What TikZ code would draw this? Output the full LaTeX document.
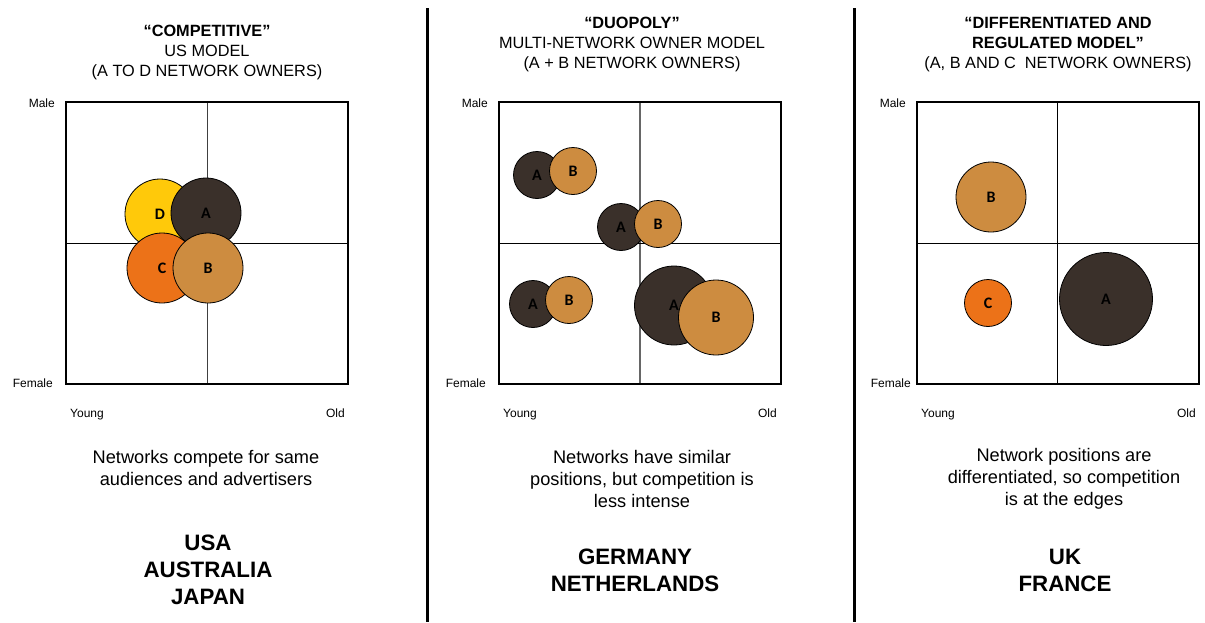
\documentclass[tikz,border=0pt]{standalone}
\usepackage{fontspec}
\setmainfont{Liberation Sans}
\newfontfamily\lblfont{Carlito}
\definecolor{cA}{HTML}{3A302A}
\definecolor{cB}{HTML}{CD8C40}
\definecolor{cC}{HTML}{EC7218}
\definecolor{cD}{HTML}{FFC90A}
\begin{document}
\begin{tikzpicture}[x=1pt,y=-1pt,
  frame/.style={draw=black,line width=2.2pt},
  midline/.style={draw=black,line width=1pt},
  sep/.style={draw=black,line width=3pt},
  net/.style={circle,draw=black,line width=0.8pt,inner sep=0pt,font=\lblfont\fontsize{16}{16}\selectfont\bfseries},
  axis/.style={inner sep=0pt,font=\fontsize{12}{12}\selectfont},
  title/.style={inner sep=0pt,align=center,font=\fontsize{16.3}{20}\selectfont},
  desc/.style={inner sep=0pt,align=center,font=\fontsize{18.2}{22}\selectfont},
  country/.style={inner sep=0pt,align=center,font=\fontsize{22.3}{27}\selectfont\bfseries}]
\path[use as bounding box] (0,0) rectangle (1205,622);
% separators
\coordinate (s1t) at (427,8); \coordinate (s1b) at (427,622);
\coordinate (s2t) at (854,8); \coordinate (s2b) at (854,622);
\draw[sep] (s1t) -- (s1b);
\draw[sep] (s2t) -- (s2b);

% ---------- Panel 1 ----------
\node[title] (t1) at (207,52) {\textbf{“COMPETITIVE”}\\US MODEL\\(A TO D NETWORK OWNERS)};
\coordinate (b1tl) at (66,102); \coordinate (b1br) at (348,384);
\coordinate (b1vt) at (207,102); \coordinate (b1vb) at (207,384);
\coordinate (b1hl) at (66,243); \coordinate (b1hr) at (348,243);
\draw[midline,draw=black!75] (b1vt) -- (b1vb);
\draw[midline] (b1hl) -- (b1hr);
\node[net,fill=cD,minimum size=70pt] (p1d) at (160,214) {D};
\node[net,fill=cA,minimum size=70pt] (p1a) at (206,213) {A};
\node[net,fill=cC,minimum size=70pt] (p1c) at (162,268) {C};
\node[net,fill=cB,minimum size=70pt] (p1b) at (208,268) {B};
\draw[frame] (b1tl) rectangle (b1br);
\node[axis,anchor=east] (m1) at (55,103) {Male};
\node[axis,anchor=east] (f1) at (53,383) {Female};
\node[axis,anchor=west] (y1) at (70,414.5) {Young};
\node[axis,anchor=east] (o1) at (345,413) {Old};
\node[desc] (d1) at (206,468) {Networks compete for same\\audiences and advertisers};
\node[country] (c1) at (208,570) {USA\\AUSTRALIA\\JAPAN};

% ---------- Panel 2 ----------
\node[title] (t2) at (632,44) {\textbf{“DUOPOLY”}\\MULTI-NETWORK OWNER MODEL\\(A + B NETWORK OWNERS)};
\coordinate (b2tl) at (499,102); \coordinate (b2br) at (781,384);
\coordinate (b2vt) at (640,102); \coordinate (b2vb) at (640,384);
\coordinate (b2hl) at (499,243); \coordinate (b2hr) at (781,243);
\draw[midline,draw=black!60,line width=1.3pt] (b2vt) -- (b2vb);
\draw[midline] (b2hl) -- (b2hr);
\node[net,fill=cA,minimum size=47pt] (p2a1) at (537,175) {A};
\node[net,fill=cB,minimum size=47pt] (p2b1) at (573,171) {B};
\node[net,fill=cA,minimum size=47pt] (p2a2) at (621,227) {A};
\node[net,fill=cB,minimum size=47pt] (p2b2) at (658,224) {B};
\node[net,fill=cA,minimum size=47pt] (p2a3) at (533,304) {A};
\node[net,fill=cB,minimum size=47pt] (p2b3) at (569,300) {B};
\node[net,fill=cA,minimum size=79pt] (p2a4) at (674,305.5) {A};
\node[net,fill=cB,minimum size=75pt] (p2b4) at (716,317.5) {B};
\draw[frame] (b2tl) rectangle (b2br);
\node[axis,anchor=east] (m2) at (488,103) {Male};
\node[axis,anchor=east] (f2) at (486,383) {Female};
\node[axis,anchor=west] (y2) at (503,414.5) {Young};
\node[axis,anchor=east] (o2) at (777,413) {Old};
\node[desc] (d2) at (642,479) {Networks have similar\\positions, but competition is\\less intense};
\node[country] (c2) at (635,570.5) {GERMANY\\NETHERLANDS};

% ---------- Panel 3 ----------
\node[title] (t3) at (1058,45) {\textbf{“DIFFERENTIATED AND}\\\textbf{REGULATED MODEL”}\\(A, B AND C\ \ NETWORK OWNERS)};
\coordinate (b3tl) at (917,102); \coordinate (b3br) at (1199,384);
\coordinate (b3vt) at (1057,102); \coordinate (b3vb) at (1057,384);
\coordinate (b3hl) at (917,243); \coordinate (b3hr) at (1199,243);
\draw[midline] (b3vt) -- (b3vb);
\draw[midline] (b3hl) -- (b3hr);
\node[net,fill=cB,minimum size=70pt] (p3b) at (991,197) {B};
\node[net,fill=cC,minimum size=47pt] (p3c) at (988,303) {C};
\node[net,fill=cA,minimum size=93pt] (p3a) at (1106,299) {A};
\draw[frame] (b3tl) rectangle (b3br);
\node[axis,anchor=east] (m3) at (906,103) {Male};
\node[axis,anchor=east] (f3) at (911,383) {Female};
\node[axis,anchor=west] (y3) at (921,414.5) {Young};
\node[axis,anchor=east] (o3) at (1196,413) {Old};
\node[desc] (d3) at (1064,479) {Network positions are\\differentiated, so competition\\is at the edges};
\node[country] (c3) at (1065,570.5) {UK\\FRANCE};
\end{tikzpicture}
\end{document}
